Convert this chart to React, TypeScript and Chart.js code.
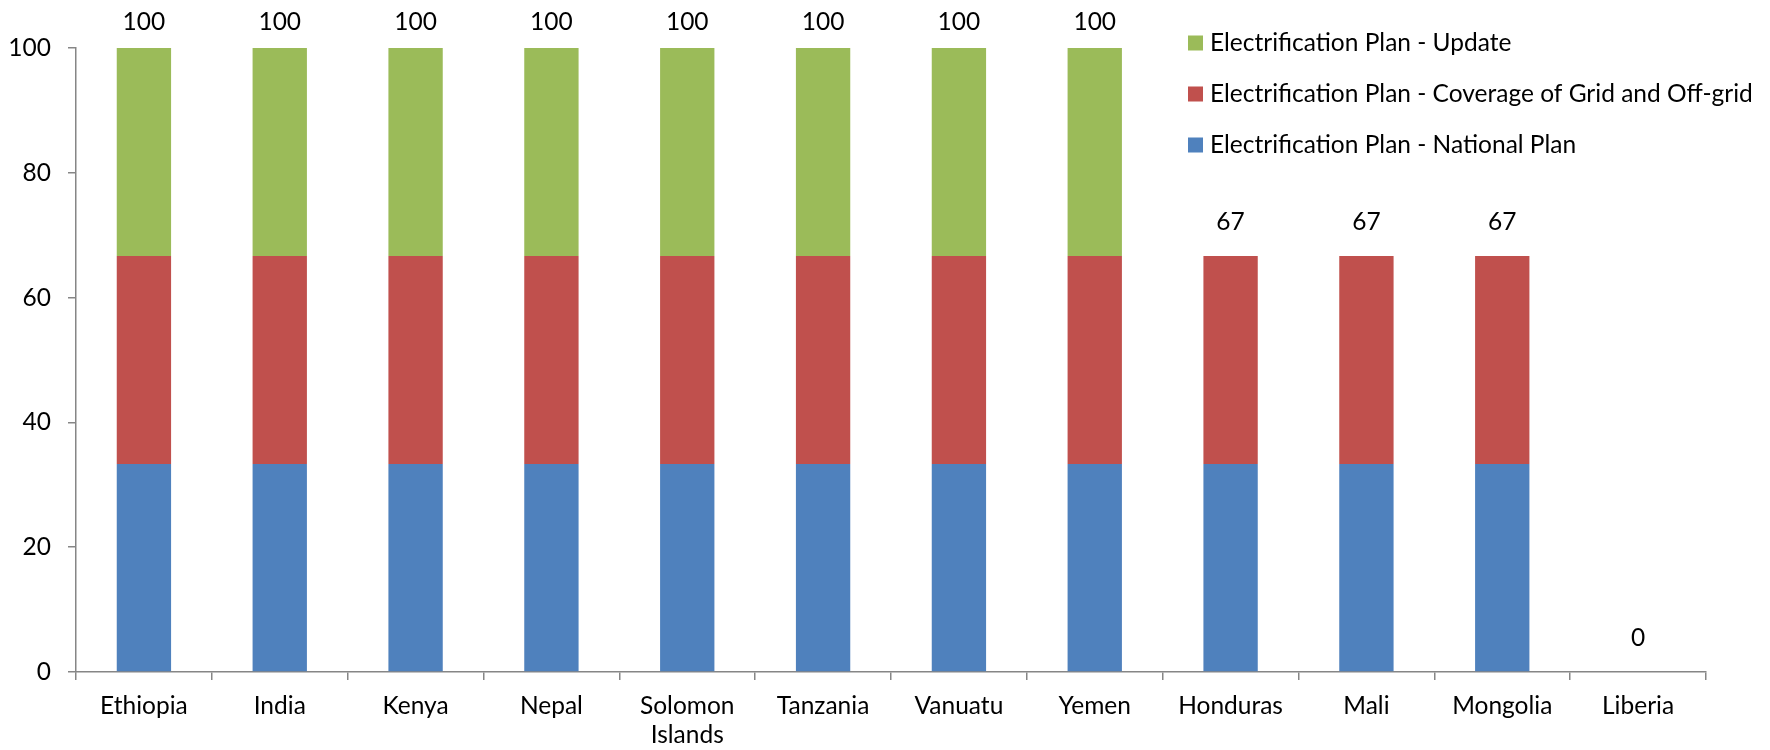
import React, { useEffect, useRef } from "react";
import { Chart, registerables } from "chart.js";

Chart.register(...registerables);

const categories: (string | string[])[] = [
  "Ethiopia", "India", "Kenya", "Nepal", ["Solomon", "Islands"], "Tanzania",
  "Vanuatu", "Yemen", "Honduras", "Mali", "Mongolia", "Liberia",
];
const nationalPlan = [33.333, 33.333, 33.333, 33.333, 33.333, 33.333, 33.333, 33.333, 33.333, 33.333, 33.333, 0];
const gridCoverage = [33.333, 33.333, 33.333, 33.333, 33.333, 33.333, 33.333, 33.333, 33.333, 33.333, 33.333, 0];
const planUpdate = [33.333, 33.333, 33.333, 33.333, 33.333, 33.333, 33.333, 33.333, 0, 0, 0, 0];
const yTicks = [0, 20, 40, 60, 80, 100];

const seriesNames = {
  national: "Electrification Plan - National Plan",
  coverage: "Electrification Plan - Coverage of Grid and Off-grid",
  update: "Electrification Plan - Update",
};

const FONT = "Lato";
const FONT_SIZE = 24.5;
const AXIS_COLOR = "#868686";

// Stack totals written above each column
const totalsPlugin = {
  id: "stackTotals",
  afterDatasetsDraw(chart: any) {
    const { ctx, scales } = chart;
    const n = chart.data.labels.length;
    ctx.save();
    ctx.font = `${FONT_SIZE}px ${FONT}`;
    ctx.fillStyle = "#000";
    ctx.textAlign = "center";
    ctx.textBaseline = "middle";
    for (let i = 0; i < n; i++) {
      let sum = 0;
      chart.data.datasets.forEach((ds: any) => (sum += ds.data[i] || 0));
      const x = scales.x.getPixelForValue(i);
      const y = Math.max(22, scales.y.getPixelForValue(sum) - 34);
      ctx.fillText(String(Math.round(sum)), x, y);
    }
    ctx.restore();
  },
};

// Legend placed inside the plot, top-most series first
const innerLegendPlugin = {
  id: "innerLegend",
  afterDraw(chart: any) {
    const { ctx } = chart;
    const items = [...chart.data.datasets].reverse();
    const x0 = 1188;
    const rows = [43, 94, 145];
    ctx.save();
    ctx.font = `${FONT_SIZE}px ${FONT}`;
    ctx.textBaseline = "middle";
    ctx.textAlign = "left";
    items.forEach((ds: any, k: number) => {
      const y = rows[k];
      ctx.fillStyle = ds.backgroundColor;
      ctx.fillRect(x0, y - 7.5, 15, 15);
      ctx.fillStyle = "#000";
      ctx.fillText(ds.label, x0 + 22, y);
    });
    ctx.restore();
  },
};

export default function App() {
  const canvasRef = useRef<HTMLCanvasElement | null>(null);

  useEffect(() => {
    if (!canvasRef.current) return;
    const chart = new Chart(canvasRef.current, {
      type: "bar",
      data: {
        labels: categories,
        datasets: [
          { label: seriesNames.national, data: nationalPlan, backgroundColor: "#4F81BD" },
          { label: seriesNames.coverage, data: gridCoverage, backgroundColor: "#C0504D" },
          { label: seriesNames.update, data: planUpdate, backgroundColor: "#9BBB59" },
        ],
      },
      options: {
        animation: false,
        responsive: true,
        maintainAspectRatio: false,
        layout: { padding: { left: 0, right: 64, top: 48, bottom: 0 } },
        datasets: { bar: { categoryPercentage: 1, barPercentage: 0.4 } },
        plugins: {
          legend: { display: false },
          tooltip: { enabled: false },
          title: { display: false },
        },
        scales: {
          x: {
            stacked: true,
            offset: true,
            afterFit: (s: any) => {
              s.height = 78;
            },
            grid: {
              offset: true,
              drawOnChartArea: false,
              drawTicks: true,
              tickLength: 8,
              color: AXIS_COLOR,
              lineWidth: 1.5,
            },
            border: { display: true, color: AXIS_COLOR, width: 1.5 },
            ticks: {
              color: "#000",
              font: { family: FONT, size: FONT_SIZE },
              padding: 11,
              maxRotation: 0,
              autoSkip: false,
            },
          },
          y: {
            stacked: true,
            min: 0,
            max: 100,
            afterFit: (s: any) => {
              s.width = 76;
            },
            afterBuildTicks: (s: any) => {
              s.ticks = yTicks.map((v) => ({ value: v }));
            },
            grid: {
              drawOnChartArea: false,
              drawTicks: true,
              tickLength: 8,
              color: AXIS_COLOR,
              lineWidth: 1.5,
            },
            border: { display: true, color: AXIS_COLOR, width: 1.5 },
            ticks: {
              color: "#000",
              font: { family: FONT, size: FONT_SIZE },
              padding: 17,
            },
          },
        },
      },
      plugins: [totalsPlugin, innerLegendPlugin],
    });
    return () => chart.destroy();
  }, []);

  return (
    <div style={{ position: "fixed", left: 0, top: 0, width: 1770, height: 750, background: "#fff" }}>
      <canvas ref={canvasRef} />
    </div>
  );
}
